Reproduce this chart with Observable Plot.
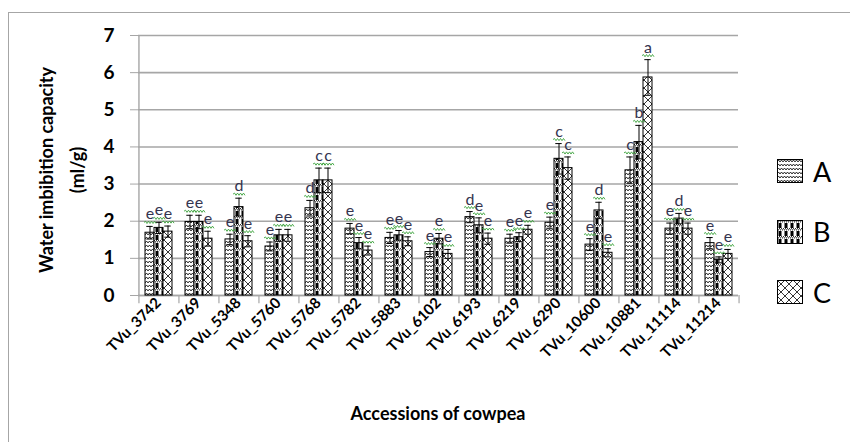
<!DOCTYPE html>
<html><head><meta charset="utf-8">
<script src="https://cdn.jsdelivr.net/npm/d3@7"></script>
<script src="https://cdn.jsdelivr.net/npm/@observablehq/plot@0.6"></script>
<style>
body{margin:0;background:#fff;font-family:Lato,"Open Sans",sans-serif;}
#wrap{position:relative;width:850px;height:442px;overflow:hidden;background:#fff;}
#frame{position:absolute;left:8px;top:12px;width:900px;height:500px;border:1px solid #a6a6a6;box-sizing:border-box;}
#chart{position:absolute;left:0;top:0;}
#ytitle{position:absolute;left:62px;top:170px;transform:translate(-50%,-50%) rotate(-90deg);white-space:nowrap;text-align:center;font-weight:bold;font-size:18px;line-height:31px;color:#000;}
#xtitle{position:absolute;left:438px;top:413px;transform:translate(-50%,-50%);font-weight:bold;font-size:18px;white-space:nowrap;color:#000;}
#legend{position:absolute;left:777px;top:141px;}
.li{display:flex;align-items:center;height:60.5px;}
.li svg{display:block;margin-right:10px;}
.li span{font-size:27px;color:#000;line-height:1;}
</style></head>
<body>
<div id="wrap">
<div id="frame"></div>
<div id="chart"></div>
<div id="ytitle">Water imbibition capacity<br>(ml/g)</div>
<div id="xtitle">Accessions of cowpea</div>
<div id="legend"></div>
</div>
<script>
const accessions = ["TVu_3742","TVu_3769","TVu_5348","TVu_5760","TVu_5768","TVu_5782","TVu_5883","TVu_6102","TVu_6193","TVu_6219","TVu_6290","TVu_10600","TVu_10881","TVu_11114","TVu_11214"];
const series = ["A","B","C"];
const valuesA = [1.69,1.98,1.51,1.32,2.35,1.80,1.55,1.17,2.11,1.53,1.96,1.37,3.37,1.80,1.41];
const valuesB = [1.82,1.98,2.38,1.62,3.10,1.41,1.62,1.53,1.89,1.57,3.68,2.29,4.13,2.07,0.96];
const valuesC = [1.72,1.53,1.46,1.62,3.10,1.21,1.46,1.12,1.53,1.77,3.43,1.15,5.87,1.80,1.12];
const errA = [0.17,0.18,0.14,0.12,0.21,0.14,0.15,0.12,0.15,0.12,0.15,0.16,0.36,0.15,0.15];
const errB = [0.15,0.18,0.24,0.16,0.33,0.15,0.13,0.14,0.20,0.12,0.41,0.22,0.45,0.14,0.08];
const errC = [0.15,0.20,0.15,0.16,0.33,0.12,0.12,0.12,0.15,0.12,0.30,0.11,0.48,0.15,0.12];
const lettersA = ["e","e","e","e","d","e","e","e","d","e","e","e","c","e","e"];
const lettersB = ["e","e","d","e","c","e","e","e","e","e","c","d","b","d","e"];
const lettersC = ["e","e","e","e","c","e","e","e","e","e","c","e","a","e","e"];
const yTicks = [0,1,2,3,4,5,6,7];

const vals = {A: valuesA, B: valuesB, C: valuesC};
const errs = {A: errA, B: errB, C: errC};
const lets = {A: lettersA, B: lettersB, C: lettersC};
const rows = accessions.flatMap((acc, i) => series.map(s => ({acc, s, v: vals[s][i], e: errs[s][i], l: lets[s][i]})));
const fills = {A: "url(#patA)", B: "url(#patB)", C: "url(#patC)"};

const W = 850, H = 442, ML = 134, MR = 108, MT = 35, MB = 147;
const outer = 0.7;
const facetW = (W - ML - MR) / accessions.length;
const step = facetW / (series.length + 2 * outer);
const edge = step * (outer + 0.5);
const gridColor = "#a6a6a6";

// small zigzag symbol (spell-check style underline)
const squiggle = {
  draw(ctx, size) {
    const w = 6, a = 1.1, n = 8;
    ctx.moveTo(-w, 0);
    for (let k = 1; k <= n; ++k) ctx.lineTo(-w + (2 * w * k) / n, k % 2 ? -a : a);
  }
};

const plot = Plot.plot({
  width: W, height: H,
  marginLeft: ML, marginRight: MR, marginTop: MT, marginBottom: MB,
  style: {background: "transparent", fontFamily: "Lato, 'Open Sans', sans-serif"},
  fx: {domain: accessions, padding: 0, label: null},
  x: {domain: series, paddingInner: 0, paddingOuter: outer, axis: null},
  y: {domain: [0, 7], label: null},
  marks: [
    Plot.gridY(yTicks, {stroke: gridColor, strokeOpacity: 1, strokeWidth: 1.6}),
    Plot.axisY(yTicks, {tickSize: 8, tickPadding: 16, fontSize: 19, fontWeight: "bold", fill: "#000", stroke: gridColor, label: null}),
    Plot.axisFx({anchor: "bottom", tickRotate: -45, tickSize: 0, tickPadding: 5, fontSize: 15, fontWeight: "bold", fill: "#000", label: null}),
    Plot.ruleX(accessions, {fx: d => d, x: () => "A", y1: -0.22, y2: 0, dx: -edge, stroke: gridColor, strokeWidth: 1.2}),
    Plot.ruleX(accessions.slice(-1), {fx: d => d, x: () => "C", y1: -0.22, y2: 0, dx: edge, stroke: gridColor, strokeWidth: 1.2}),
    Plot.ruleX(accessions.slice(0, 1), {fx: d => d, x: () => "A", y1: 0, y2: 7, dx: -edge, stroke: gridColor, strokeWidth: 1.4}),
    Plot.ruleY([0], {stroke: gridColor, strokeWidth: 1.6}),
    Plot.barY(rows, {fx: "acc", x: "s", y: "v", fill: d => fills[d.s], stroke: "#000", strokeWidth: 1}),
    Plot.ruleX(rows, {fx: "acc", x: "s", y1: d => d.v - d.e, y2: d => d.v + d.e, stroke: "#000", strokeWidth: 1}),
    Plot.tickY(rows, {fx: "acc", x: "s", y: d => d.v + d.e, stroke: "#000", strokeWidth: 1, insetLeft: 1.3, insetRight: 1.3}),
    Plot.tickY(rows, {fx: "acc", x: "s", y: d => d.v - d.e, stroke: "#000", strokeWidth: 1, insetLeft: 1.3, insetRight: 1.3}),
    Plot.dot(rows, {fx: "acc", x: "s", y: d => d.v + d.e, symbol: squiggle, r: 3, dy: -4, fill: "none", stroke: "#3aa23a", strokeWidth: 0.9}),
    Plot.text(rows, {fx: "acc", x: "s", y: d => d.v + d.e, text: "l", dy: -7, lineAnchor: "bottom", fontSize: 16, fill: "#34344f"})
  ]
});

const svg = d3.select(plot);
const defs = svg.insert("defs", ":first-child");
const pA = defs.append("pattern").attr("id", "patA").attr("patternUnits", "userSpaceOnUse").attr("width", 6).attr("height", 4);
pA.append("rect").attr("width", 6).attr("height", 4).attr("fill", "#fff");
pA.append("path").attr("d", "M0 3 L1.5 1 L3 3 L4.5 1 L6 3").attr("fill", "none").attr("stroke", "#000").attr("stroke-width", 0.8);
const pB = defs.append("pattern").attr("id", "patB").attr("patternUnits", "userSpaceOnUse").attr("width", 6).attr("height", 8);
pB.append("rect").attr("width", 6).attr("height", 8).attr("fill", "#fff");
pB.append("rect").attr("x", 1.5).attr("y", 3).attr("width", 3).attr("height", 5).attr("fill", "#000");
[[0.5,0.7],[2.5,0.7],[4.5,0.7],[1.5,1.9],[3.5,1.9],[5.5,1.9]].forEach(([x, y]) => pB.append("rect").attr("x", x - 0.5).attr("y", y - 0.5).attr("width", 1).attr("height", 1).attr("fill", "#000"));
const pC = defs.append("pattern").attr("id", "patC").attr("patternUnits", "userSpaceOnUse").attr("width", 8).attr("height", 8);
pC.append("rect").attr("width", 8).attr("height", 8).attr("fill", "#fff");
pC.append("path").attr("d", "M0 0L8 8M8 0L0 8").attr("fill", "none").attr("stroke", "#000").attr("stroke-width", 0.8);

document.getElementById("chart").appendChild(plot);

const leg = d3.select("#legend");
series.forEach(s => {
  const item = leg.append("div").attr("class", "li");
  const sw = item.append("svg").attr("width", 26).attr("height", 24);
  sw.append("rect").attr("x", 0.5).attr("y", 0.5).attr("width", 25).attr("height", 23).attr("fill", fills[s]).attr("stroke", "#000");
  item.append("span").text(s);
});
</script>
</body></html>
